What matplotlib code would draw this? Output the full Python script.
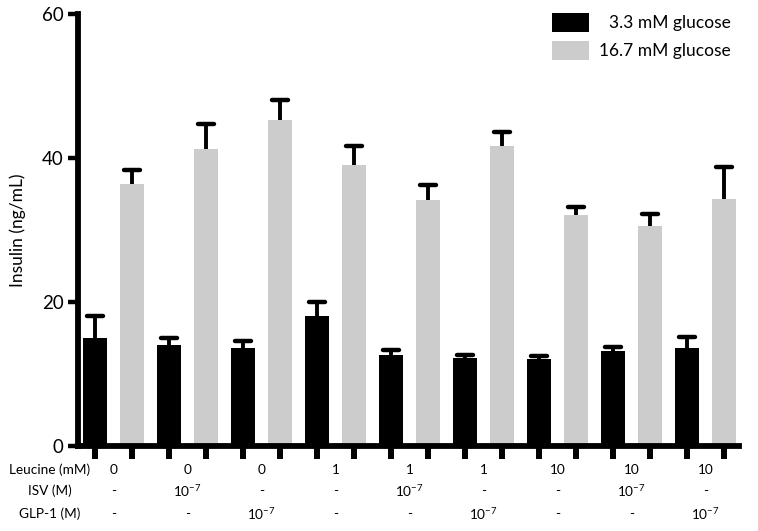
import matplotlib
matplotlib.use("Agg")
import matplotlib.pyplot as plt
import numpy as np
from matplotlib.patches import Rectangle
from matplotlib.markers import MarkerStyle

plt.rcParams['font.family'] = ['Lato', 'DejaVu Sans']
plt.rcParams['mathtext.fontset'] = 'custom'
plt.rcParams['mathtext.rm'] = 'Lato'

series_names = ["3.3 mM glucose", "16.7 mM glucose"]
low_glucose = [15.0, 14.0, 13.6, 18.1, 12.6, 12.2, 12.1, 13.15, 13.65]
low_glucose_err = [3.0, 1.0, 1.0, 1.9, 0.7, 0.5, 0.4, 0.55, 1.55]
high_glucose = [36.4, 41.2, 45.3, 39.0, 34.1, 41.7, 32.1, 30.6, 34.3]
high_glucose_err = [2.0, 3.5, 2.8, 2.7, 2.1, 1.9, 1.1, 1.6, 4.4]
leucine = ["0", "0", "0", "1", "1", "1", "10", "10", "10"]
isv = ["-", "10^-7", "-", "-", "10^-7", "-", "-", "10^-7", "-"]
glp1 = ["-", "-", "10^-7", "-", "-", "10^-7", "-", "-", "10^-7"]
row_labels = ["Leucine (mM)", "ISV (M)", "GLP-1 (M)"]
yticks = [0, 20, 40, 60]

W, H = 758, 531
fig = plt.figure(figsize=(W / 100, H / 100), dpi=100)
ax = fig.add_axes([78 / W, (H - 446) / H, (739 - 78) / W, 432 / H])

n = len(low_glucose)
xb = np.arange(n) * 2.0
xg = xb + 1.0
bw = 0.66
black = "#000000"
grey = "#cccccc"

ax.bar(xb, low_glucose, width=bw, color=black, zorder=2)
ax.bar(xg, high_glucose, width=bw, color=grey, zorder=2)

for x, v, e in ((xb, low_glucose, low_glucose_err), (xg, high_glucose, high_glucose_err)):
    eb = ax.errorbar(x, v, yerr=[np.zeros(n), e], fmt='none', ecolor=black,
                     elinewidth=2.8, capsize=6.0, capthick=3.2, zorder=3)
    caps = eb[1]
    caps[0].set_visible(False)
    caps[1].set_marker(MarkerStyle('_', capstyle='round'))
    caps[1].set_markeredgewidth(3.2)
    caps[1].set_markersize(12)
    for lc in eb[2]:
        lc.set_capstyle('butt')

ax.set_ylim(0, 60)
ax.set_xlim(-0.46, 17.4)
ax.set_yticks(yticks)
ax.set_yticklabels([str(t) for t in yticks], fontsize=13.5)
allx = np.sort(np.concatenate([xb, xg]))
ax.set_xticks(allx)
ax.set_xticklabels([])
ax.tick_params(axis='y', direction='out', length=7, width=3.2, pad=3.5)
ax.tick_params(axis='x', direction='out', length=9.5, width=4.3)
for s in ['top', 'right']:
    ax.spines[s].set_visible(False)
for s in ['left', 'bottom']:
    ax.spines[s].set_linewidth(4.2)
ax.spines['left'].set_zorder(4)
ax.set_ylabel("Insulin (ng/mL)", fontsize=12.5)
ax.yaxis.set_label_coords(-0.079, 0.5)

def fmt(s):
    if s == "10^-7":
        return r"$\mathregular{10^{-7}}$"
    return s

trans = ax.get_xaxis_transform()
row_y = [(446 - 470) / 432, (446 - 491) / 432, (446 - 514) / 432]
for ri, (lab, vals) in enumerate(zip(row_labels, [leucine, isv, glp1])):
    fig.text(50 / W, 1 - (446 - row_y[ri] * 432) / H, lab, ha='center', va='center', fontsize=9.8)
    for i, v in enumerate(vals):
        ax.text(xb[i] + 0.5, row_y[ri], fmt(v), transform=trans, ha='center', va='center',
                fontsize=9.8, clip_on=False)

# legend
for j, (name, col) in enumerate(zip(series_names, [black, grey])):
    ytop = 13 + j * 28
    fig.patches.append(Rectangle((552 / W, 1 - (ytop + 19) / H), 37 / W, 19 / H,
                                 transform=fig.transFigure, facecolor=col, edgecolor='none'))
    fig.text(731 / W, 1 - (ytop + 10) / H, name, ha='right', va='center', fontsize=12.5)

fig.savefig("out.png", dpi=100)
